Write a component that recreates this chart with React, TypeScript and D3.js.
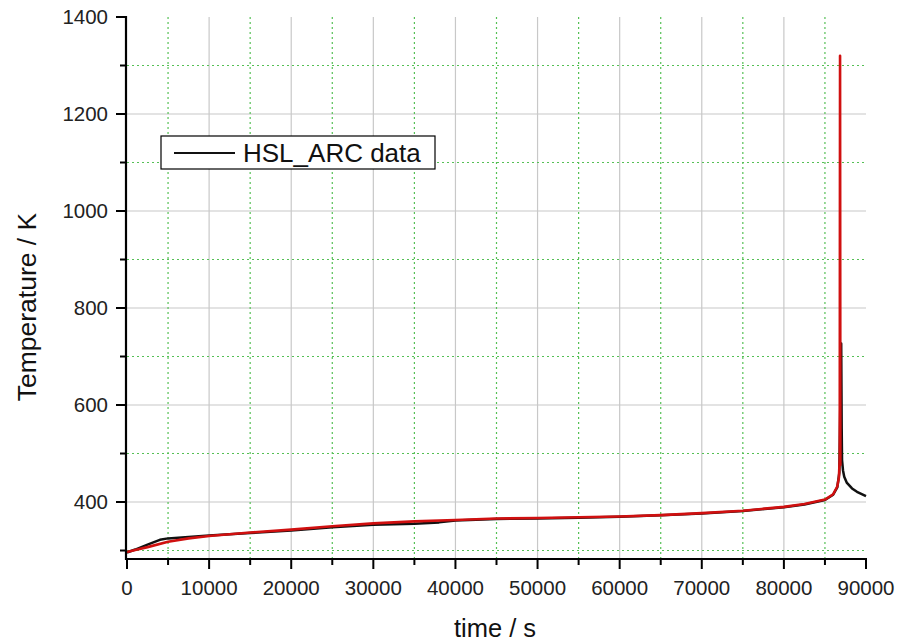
import React, { useEffect, useRef } from "react";
import * as d3 from "d3";

const redTime = [0, 1000, 2500, 5000, 7500, 10000, 15000, 20000, 25000, 30000, 35000, 40000, 45000, 50000, 55000, 60000, 65000, 70000, 75000, 80000, 82500, 85000, 86000, 86500, 86700, 86800, 86840, 86880];
const redTemp = [297, 301, 307, 318, 325, 330, 337, 343, 350, 356, 360, 363, 366, 367, 368.5, 370, 373, 377, 382, 390, 396, 405, 416, 432, 450, 490, 1320, 475];

const blackTime = [0, 1000, 2500, 4000, 5000, 7500, 10000, 15000, 20000, 25000, 30000, 35000, 38000, 40000, 45000, 50000, 55000, 60000, 65000, 70000, 75000, 80000, 82500, 85000, 86000, 86500, 86750, 86980, 87040, 87080, 87200, 87350, 87650, 88300, 88900, 90000];
const blackTemp = [296, 302, 312, 322, 325, 328, 331, 336, 341, 348, 353, 355, 358, 362, 365, 366, 367.5, 369.5, 372.5, 376.5, 381.5, 389, 395, 404, 415, 430, 460, 727, 552, 487, 465, 452, 440, 428, 421, 412];

const xMajor = [0, 10000, 20000, 30000, 40000, 50000, 60000, 70000, 80000, 90000];
const xMinor = [5000, 15000, 25000, 35000, 45000, 55000, 65000, 75000, 85000];
const yMajor = [400, 600, 800, 1000, 1200, 1400];
const yMinor = [300, 500, 700, 900, 1100, 1300];

const legendLabel = "HSL_ARC data";

export default function App() {
  const ref = useRef<SVGSVGElement>(null);

  useEffect(() => {
    const svg = d3.select(ref.current);
    svg.selectAll("*").remove();

    const left = 127, right = 866, top = 17, bottom = 559;
    const font = "'Liberation Sans', Arial, sans-serif";

    const x = d3.scaleLinear().domain([0, 90000]).range([left, right]);
    const y = d3.scaleLinear().domain([282.5, 1400]).range([bottom, top]);

    const grid = svg.append("g");
    // gray major grid
    grid.selectAll(".gx")
      .data(xMajor.filter((d) => d > 0 && d < 90000))
      .enter().append("line")
      .attr("x1", (d) => x(d)).attr("x2", (d) => x(d))
      .attr("y1", top).attr("y2", bottom)
      .attr("stroke", "#c8c8c8").attr("stroke-width", 1.2);
    grid.selectAll(".gy")
      .data(yMajor.filter((d) => d < 1400))
      .enter().append("line")
      .attr("x1", left).attr("x2", right)
      .attr("y1", (d) => y(d)).attr("y2", (d) => y(d))
      .attr("stroke", "#c8c8c8").attr("stroke-width", 1.2);
    // green dotted minor grid
    grid.selectAll(".mx")
      .data(xMinor)
      .enter().append("line")
      .attr("x1", (d) => x(d)).attr("x2", (d) => x(d))
      .attr("y1", top).attr("y2", bottom)
      .attr("stroke", "#55c055").attr("stroke-width", 1.2)
      .attr("stroke-dasharray", "2 3");
    grid.selectAll(".my")
      .data(yMinor)
      .enter().append("line")
      .attr("x1", left).attr("x2", right)
      .attr("y1", (d) => y(d)).attr("y2", (d) => y(d))
      .attr("stroke", "#55c055").attr("stroke-width", 1.2)
      .attr("stroke-dasharray", "2 3");

    const blackPts = blackTime.map((t, i) => [x(t), y(blackTemp[i])] as [number, number]);
    const redPts = redTime.map((t, i) => [x(t), y(redTemp[i])] as [number, number]);

    svg.append("path")
      .attr("d", d3.line()(blackPts))
      .attr("fill", "none").attr("stroke", "#111").attr("stroke-width", 2.5)
      .attr("stroke-linejoin", "round");
    svg.append("path")
      .attr("d", d3.line()(redPts))
      .attr("fill", "none").attr("stroke", "#d01010").attr("stroke-width", 2.6)
      .attr("stroke-linejoin", "round");

    // axes
    const axis = svg.append("g");
    axis.append("line")
      .attr("x1", left - 1).attr("x2", left - 1).attr("y1", top - 1).attr("y2", bottom + 1)
      .attr("stroke", "#000").attr("stroke-width", 2.2);
    axis.append("line")
      .attr("x1", left - 2).attr("x2", right + 1).attr("y1", bottom).attr("y2", bottom)
      .attr("stroke", "#000").attr("stroke-width", 2.2);

    axis.selectAll(".ytm")
      .data(yMajor).enter().append("line")
      .attr("x1", left - 11).attr("x2", left - 1)
      .attr("y1", (d) => y(d)).attr("y2", (d) => y(d))
      .attr("stroke", "#000").attr("stroke-width", 2);
    axis.selectAll(".ytn")
      .data(yMinor).enter().append("line")
      .attr("x1", left - 7).attr("x2", left - 1)
      .attr("y1", (d) => y(d)).attr("y2", (d) => y(d))
      .attr("stroke", "#000").attr("stroke-width", 2);
    axis.selectAll(".xtm")
      .data(xMajor).enter().append("line")
      .attr("x1", (d) => x(d)).attr("x2", (d) => x(d))
      .attr("y1", bottom).attr("y2", bottom + 10)
      .attr("stroke", "#000").attr("stroke-width", 2);
    axis.selectAll(".xtn")
      .data(xMinor).enter().append("line")
      .attr("x1", (d) => x(d)).attr("x2", (d) => x(d))
      .attr("y1", bottom).attr("y2", bottom + 6)
      .attr("stroke", "#000").attr("stroke-width", 2);

    axis.selectAll(".ytl")
      .data(yMajor).enter().append("text")
      .attr("x", left - 19).attr("y", (d) => y(d))
      .attr("dy", "0.36em")
      .attr("text-anchor", "end")
      .attr("font-family", font).attr("font-size", 20.5).attr("fill", "#222")
      .text((d) => String(d));
    axis.selectAll(".xtl")
      .data(xMajor).enter().append("text")
      .attr("x", (d) => x(d)).attr("y", 595)
      .attr("text-anchor", "middle")
      .attr("font-family", font).attr("font-size", 20.5).attr("fill", "#222")
      .text((d) => String(d));

    svg.append("text")
      .attr("x", 495).attr("y", 637)
      .attr("text-anchor", "middle")
      .attr("font-family", font).attr("font-size", 25.5).attr("fill", "#111")
      .text("time / s");
    svg.append("text")
      .attr("transform", "translate(36,307) rotate(-90)")
      .attr("text-anchor", "middle")
      .attr("font-family", font).attr("font-size", 26.5).attr("fill", "#111")
      .text("Temperature / K");

    // legend
    const lg = svg.append("g");
    lg.append("rect")
      .attr("x", 161).attr("y", 136).attr("width", 274).attr("height", 33)
      .attr("fill", "#fff").attr("stroke", "#000").attr("stroke-width", 1.2);
    lg.append("line")
      .attr("x1", 174).attr("x2", 235).attr("y1", 153).attr("y2", 153)
      .attr("stroke", "#111").attr("stroke-width", 2.2);
    lg.append("text")
      .attr("x", 243).attr("y", 161.5)
      .attr("font-family", font).attr("font-size", 26).attr("fill", "#111")
      .text(legendLabel);
  }, []);

  return (
    <svg
      ref={ref}
      width={898}
      height={641}
      style={{ position: "fixed", left: 0, top: 0, display: "block", background: "#fff" }}
    ></svg>
  );
}
